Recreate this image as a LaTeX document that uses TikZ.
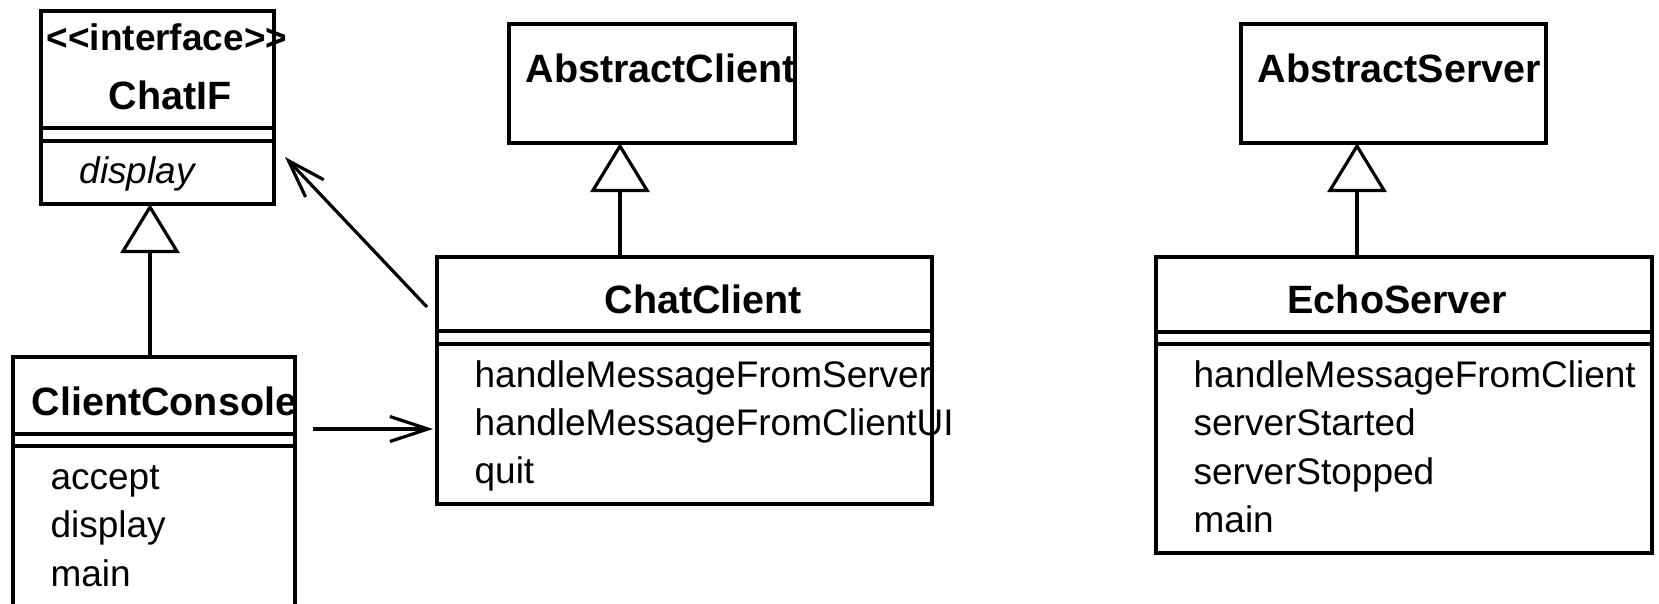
\documentclass[tikz,border=0pt]{standalone}
\usepackage{fontspec}
\setmainfont{Liberation Sans}[Ligatures=TeXOff]
\usetikzlibrary{arrows.meta}
\begin{document}
\begin{tikzpicture}[x=1pt,y=-1pt,line width=3.2pt,
  classbox/.style={draw,rectangle,inner sep=0pt,outer sep=0pt,line width=3.2pt},
  member/.style={anchor=base west,inner sep=0pt,font=\fontsize{37}{44}\selectfont},
  absmember/.style={member,font=\fontsize{37}{44}\selectfont\itshape},
  classname/.style={anchor=base west,inner sep=0pt,font=\fontsize{39.5}{47}\selectfont\bfseries},
  stereo/.style={anchor=base west,inner sep=0pt,font=\fontsize{37}{44}\selectfont\bfseries},
  inherit/.style={-{Triangle[open,length=49pt,width=59pt]}},
  assoc/.style={-{Straight Barb[length=38pt,width=25pt]}}]
\useasboundingbox (0,0) rectangle (1659,603);
\clip (0,0) rectangle (1659,603);

% class boxes
\node[classbox,minimum width=233pt,minimum height=193pt] (chatif) at (157.5,107.5) {};
\node[classbox,minimum width=282pt,minimum height=293pt] (console) at (154,503.5) {};
\node[classbox,minimum width=286pt,minimum height=119pt] (absclient) at (652,83.5) {};
\node[classbox,minimum width=495pt,minimum height=247pt] (chatclient) at (684.5,380.5) {};
\node[classbox,minimum width=305pt,minimum height=119pt] (absserver) at (1393.5,83.5) {};
\node[classbox,minimum width=496pt,minimum height=296pt] (echo) at (1404,405) {};

% compartment separators (double rules)
\foreach \n/\ya/\yb in {chatif/128/141, console/434/446, chatclient/331/344, echo/332/344}{
  \draw (\n.west |- 0,\ya) -- (\n.east |- 0,\ya);
  \draw (\n.west |- 0,\yb) -- (\n.east |- 0,\yb);
}

% ChatIF
\node[stereo] (ifstereo) at (45,50) {<<interface>>};
\node[classname] (ifname) at (107,109) {ChatIF};
\node[absmember] (ifdisplay) at (78,183) {display};

% ClientConsole
\node[classname] (ccname) at (30,415) {ClientConsole};
\node[member] (ccaccept) at (49,489) {accept};
\node[member] (ccdisplay) at (49,537) {display};
\node[member] (ccmain) at (49,586) {main};

% AbstractClient / ChatClient
\node[classname] (acname) at (524,82) {AbstractClient};
\node[classname] (chname) at (603,313) {ChatClient};
\node[member] (chserver) at (473,387) {handleMessageFromServer};
\node[member] (chui) at (473,435) {handleMessageFromClientUI};
\node[member] (chquit) at (473,483) {quit};

% AbstractServer / EchoServer
\node[classname] (asname) at (1256,82) {AbstractServer};
\node[classname] (esname) at (1286,313) {EchoServer};
\node[member] (esclient) at (1192,387) {handleMessageFromClient};
\node[member] (esstarted) at (1192,435.5) {serverStarted};
\node[member] (esstopped) at (1192,484) {serverStopped};
\node[member] (esmain) at (1192,532.5) {main};

% generalizations
\draw[inherit] ([xshift=-4pt]console.north) -- ([xshift=-7.5pt]chatif.south);
\draw[inherit] ([xshift=-64.5pt]chatclient.north) -- ([xshift=-32pt]absclient.south);
\draw[inherit] ([xshift=-47pt]echo.north) -- ([xshift=-36.5pt]absserver.south);

% associations
\draw[assoc] ([xshift=-10pt,yshift=-50pt]chatclient.north west) -- ([xshift=11pt,yshift=-49.5pt]chatif.east);
\draw[assoc] ([xshift=18pt,yshift=-72pt]console.north east) -- ([xshift=-4pt,yshift=-48.5pt]chatclient.west);
\end{tikzpicture}
\end{document}
